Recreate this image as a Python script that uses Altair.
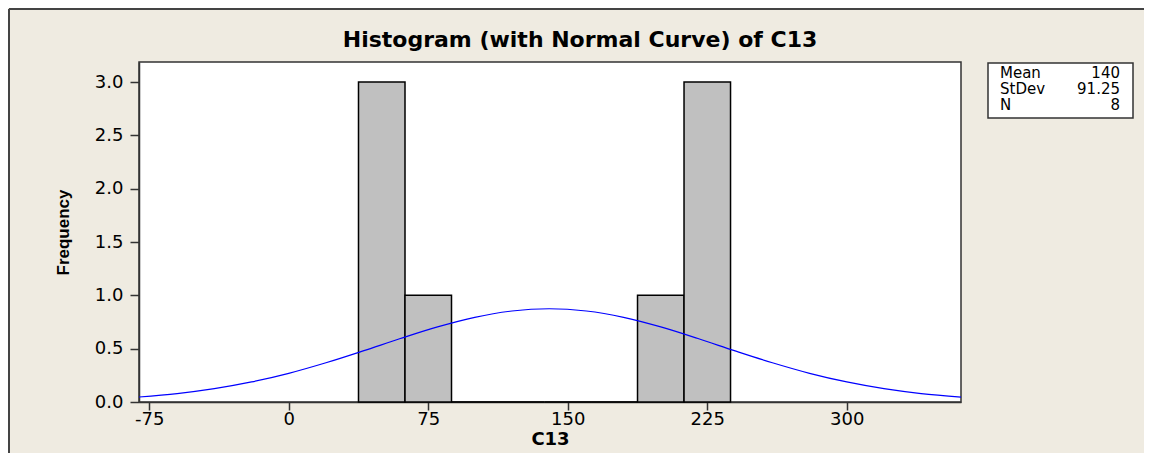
import altair as alt
import pandas as pd

# Histogram bins (bin edges) and frequencies
bin_lo = [37.5, 62.5, 87.5, 112.5, 137.5, 162.5, 187.5, 212.5]
bin_hi = [62.5, 87.5, 112.5, 137.5, 162.5, 187.5, 212.5, 237.5]
counts = [3, 1, 0, 0, 0, 0, 1, 3]

# Normal curve, values
curve_x = [-80.5, -60, -40, -20, 0, 20, 40, 60, 80, 100, 120, 140,
           160, 180, 200, 220, 240, 260, 280, 300, 320, 340, 361.4]
curve_y = [0.047, 0.079, 0.125, 0.188, 0.269, 0.368, 0.479, 0.595, 0.704, 0.794, 0.853, 0.874,
           0.853, 0.794, 0.704, 0.595, 0.479, 0.368, 0.269, 0.188, 0.125, 0.079, 0.046]

# Summary box
stat_names = ["Mean", "StDev", "N"]
stat_values = ["140", "91.25", "8"]
stat_rows = [0, 1, 2]

x_ticks = [-75, 0, 75, 150, 225, 300]
y_ticks = [0.0, 0.5, 1.0, 1.5, 2.0, 2.5, 3.0]

title_text = ["Histogram (with Normal Curve) of C13"]

bars_df = pd.DataFrame({"lo": bin_lo, "hi": bin_hi, "count": counts})
curve_df = pd.DataFrame({"x": curve_x, "y": curve_y})
stats_df = pd.DataFrame({"name": stat_names, "value": stat_values, "row": stat_rows})
title_df = pd.DataFrame({"t": title_text})
one = pd.DataFrame({"k": [0]})

FONT = "DejaVu Sans"
DARK = "#333333"

xscale = alt.Scale(domain=[-80.5, 361.4], nice=False, zero=False)
yscale = alt.Scale(domain=[0, 3.1875], nice=False, zero=False)

xaxis = alt.Axis(
    values=x_ticks, labelExpr="'' + datum.value", grid=False,
    tickSize=8, tickColor=DARK, tickWidth=1.5,
    domainColor=DARK, domainWidth=1.5,
    labelFont=FONT, labelFontSize=18, labelColor="black",
    labelBaseline="alphabetic", labelPadding=14, labelFlush=False, labelOverlap=False,
    titleFont=FONT, titleFontSize=18, titleFontWeight="bold", titleColor="black",
    titleBaseline="alphabetic", titleY=42,
)
yaxis = alt.Axis(
    values=y_ticks, format=".1f", grid=False,
    tickSize=9, tickColor=DARK, tickWidth=1.5,
    domainColor=DARK, domainWidth=1.5,
    labelFont=FONT, labelFontSize=18, labelColor="black", labelPadding=7,
    labelFlush=False, labelOverlap=False,
    titleFont="Liberation Sans, Arial, sans-serif", titleFontSize=17, titleFontWeight="bold",
    titleColor="black", titleAngle=270, titleAlign="center", titleBaseline="alphabetic",
    titleX=-71, titleY=170,
)

bars = alt.Chart(bars_df).mark_rect(
    fill="#C0C0C0", stroke="#000000", strokeWidth=1.5
).encode(
    x=alt.X("lo:Q", scale=xscale, axis=xaxis, title="C13"),
    x2="hi:Q",
    y=alt.Y("count:Q", scale=yscale, axis=yaxis, title="Frequency"),
    y2=alt.datum(0),
)

curve = alt.Chart(curve_df).mark_line(
    color="#0000FF", strokeWidth=1.2, interpolate="monotone"
).encode(
    x=alt.X("x:Q", scale=xscale),
    y=alt.Y("y:Q", scale=yscale),
)

inner = alt.layer(bars, curve)

# outer frame (left and top edges only)
frame_left = alt.Chart(one).mark_rule(color="#444444", strokeWidth=2).encode(
    x=alt.value(-130), y=alt.value(-53), y2=alt.value(400)
)
frame_top = alt.Chart(one).mark_rule(color="#444444", strokeWidth=2).encode(
    x=alt.value(-130), x2=alt.value(1005), y=alt.value(-53)
)

title = alt.Chart(title_df).mark_text(
    align="center", baseline="alphabetic", font=FONT, fontSize=22,
    fontWeight="bold", color="black"
).encode(x=alt.value(441), y=alt.value(-15), text="t:N")

box = alt.Chart(one).mark_rect(
    fill="white", stroke=DARK, strokeWidth=1.5
).encode(
    x=alt.value(849), x2=alt.value(994), y=alt.value(1), y2=alt.value(56)
)

row_y = alt.Y("row:Q", scale=alt.Scale(domain=[0, 2], range=[16, 48]), axis=None)

names = alt.Chart(stats_df).mark_text(
    align="left", baseline="alphabetic", font=FONT, fontSize=15, color="black"
).encode(x=alt.value(861), y=row_y, text="name:N")

values = alt.Chart(stats_df).mark_text(
    align="right", baseline="alphabetic", font=FONT, fontSize=15, color="black"
).encode(x=alt.value(981), y=row_y, text="value:N")

chart = alt.layer(frame_left, frame_top, title, inner, box, names, values).resolve_scale(
    y="independent"
).properties(
    width=822,
    height=340,
    padding={"left": 131, "top": 54, "right": 183, "bottom": 51},
    autosize=alt.AutoSizeParams(type="none"),
    background="#EFEBE1",
).configure_view(
    fill="white", stroke=DARK, strokeWidth=1.5
)

chart.save("out.html", embed_options={"renderer": "svg", "actions": False})
